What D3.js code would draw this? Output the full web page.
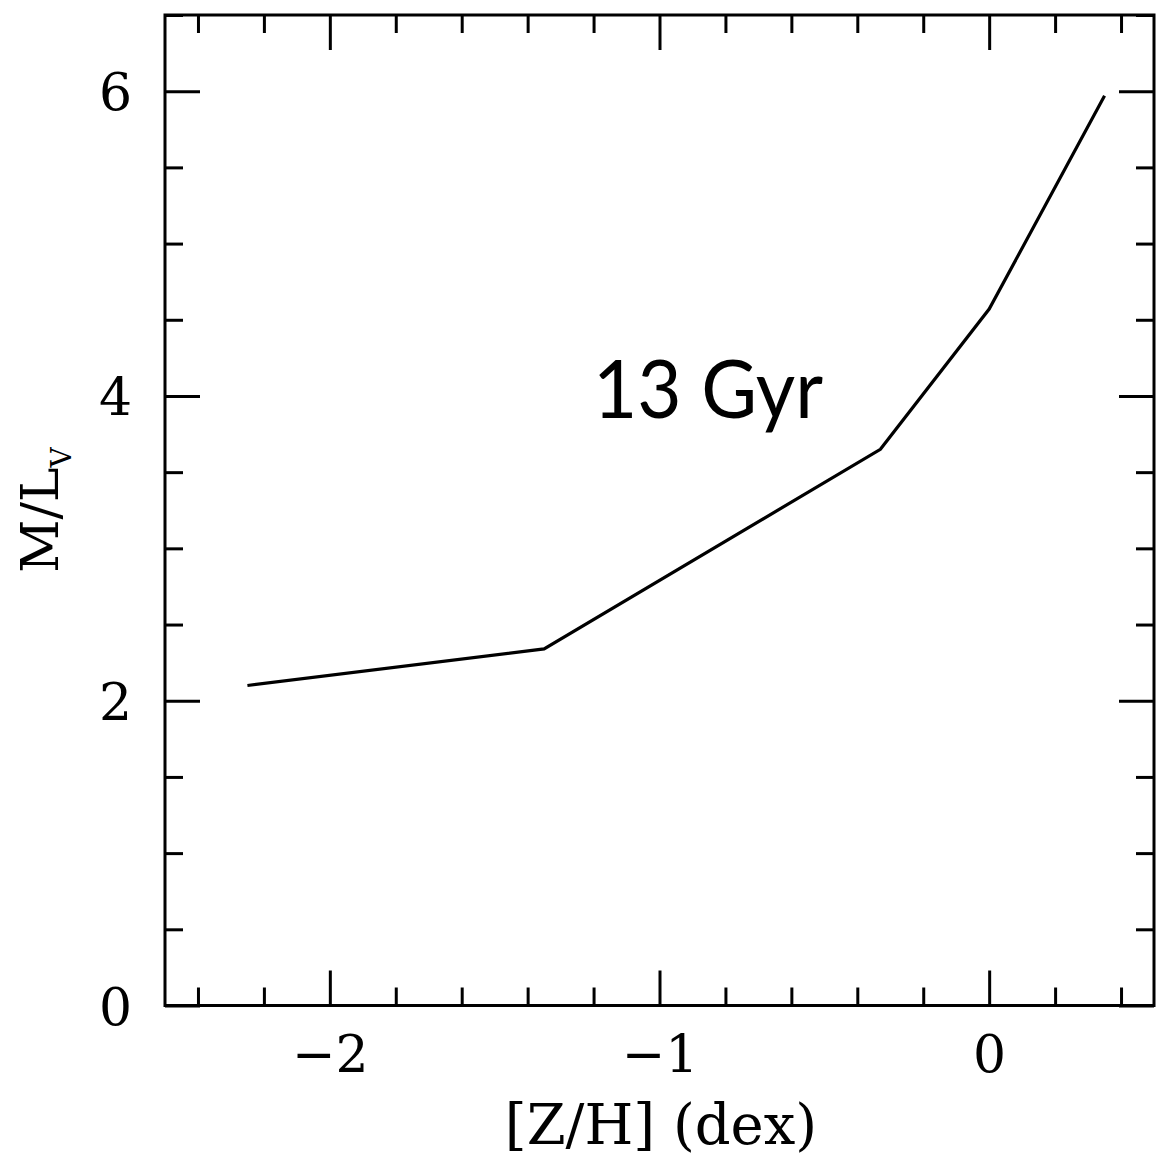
<!DOCTYPE html>
<html>
<head>
<meta charset="utf-8">
<script src="https://cdn.jsdelivr.net/npm/d3@7"></script>
<style>
  html, body { margin: 0; padding: 0; background: #fff; }
  svg { display: block; }
</style>
</head>
<body>
<svg id="chart" width="1156" height="1158"></svg>
<script>
// ---- data ----
const zh = [-2.25, -1.35, -0.33, 0.0, 0.35];      // [Z/H] (dex)
const ml = [2.10, 2.34, 3.65, 4.57, 5.97];         // M/L_V
const xMajorTicks = [-2, -1, 0];
const xMinorTicks = [-2.4, -2.2, -1.8, -1.6, -1.4, -1.2, -0.8, -0.6, -0.4, -0.2, 0.2, 0.4];
const yMajorTicks = [0, 2, 4, 6];
const yMinorTicks = [0.5, 1, 1.5, 2.5, 3, 3.5, 4.5, 5, 5.5, 6.5];
const xTickLabels = ["\u22122", "\u22121", "0"];
const yTickLabels = ["0", "2", "4", "6"];
const annotation = "13 Gyr";

// ---- layout ----
const svg = d3.select("#chart");
const L = 165, R = 1154, T = 15, B = 1005.5;
const x = d3.scaleLinear().domain([-2.5, 0.5]).range([L, R]);
const y = d3.scaleLinear().domain([0, 6.5]).range([B, T]);

const serif = "'DejaVu Serif', serif";
const majorLen = 35, minorLen = 18;

function styleAxis(g) {
  g.select(".domain").remove();
  g.selectAll(".tick line").attr("stroke", "#000").attr("stroke-width", 3);
}

// bottom major with labels
svg.append("g").attr("transform", `translate(0,${B})`)
  .call(d3.axisBottom(x).tickValues(xMajorTicks).tickSize(-majorLen).tickPadding(30)
    .tickFormat((d, i) => xTickLabels[i]))
  .call(styleAxis)
  .call(g => g.selectAll("text").attr("font-family", serif).attr("font-size", 52).attr("fill", "#000"));
svg.append("g").attr("transform", `translate(0,${B})`)
  .call(d3.axisBottom(x).tickValues(xMinorTicks).tickSize(-minorLen).tickFormat(""))
  .call(styleAxis);
// top
svg.append("g").attr("transform", `translate(0,${T})`)
  .call(d3.axisTop(x).tickValues(xMajorTicks).tickSize(-majorLen).tickFormat(""))
  .call(styleAxis);
svg.append("g").attr("transform", `translate(0,${T})`)
  .call(d3.axisTop(x).tickValues(xMinorTicks).tickSize(-minorLen).tickFormat(""))
  .call(styleAxis);
// left
svg.append("g").attr("transform", `translate(${L},0)`)
  .call(d3.axisLeft(y).tickValues(yMajorTicks).tickSize(-majorLen).tickPadding(33)
    .tickFormat((d, i) => yTickLabels[i]))
  .call(styleAxis)
  .call(g => g.selectAll("text").attr("font-family", serif).attr("font-size", 52).attr("fill", "#000").attr("dy", "0.36em"));
svg.append("g").attr("transform", `translate(${L},0)`)
  .call(d3.axisLeft(y).tickValues(yMinorTicks).tickSize(-minorLen).tickFormat(""))
  .call(styleAxis);
// right
svg.append("g").attr("transform", `translate(${R},0)`)
  .call(d3.axisRight(y).tickValues(yMajorTicks).tickSize(-majorLen).tickFormat(""))
  .call(styleAxis);
svg.append("g").attr("transform", `translate(${R},0)`)
  .call(d3.axisRight(y).tickValues(yMinorTicks).tickSize(-minorLen).tickFormat(""))
  .call(styleAxis);

// frame
svg.append("rect").attr("x", L).attr("y", T).attr("width", R - L).attr("height", B - T)
  .attr("fill", "none").attr("stroke", "#000").attr("stroke-width", 3);

// line
const pts = zh.map((d, i) => [d, ml[i]]);
svg.append("path").datum(pts)
  .attr("d", d3.line().x(d => x(d[0])).y(d => y(d[1])))
  .attr("fill", "none").attr("stroke", "#000").attr("stroke-width", 3.2)
  .attr("stroke-linejoin", "miter");

// axis titles
svg.append("text").attr("x", 661).attr("y", 1144).attr("text-anchor", "middle")
  .attr("font-family", serif).attr("font-size", 56).attr("fill", "#000")
  .text("[Z/H] (dex)");

const yt = svg.append("text").attr("transform", "translate(58,510) rotate(-90)")
  .attr("text-anchor", "middle").attr("font-family", serif).attr("font-size", 52).attr("fill", "#000");
yt.append("tspan").text("M/L");
yt.append("tspan").attr("font-size", 28).attr("dy", 13).text("V");

// annotation
svg.append("text").attr("x", 593).attr("y", 418)
  .attr("font-family", "Lato, 'Open Sans', sans-serif").attr("font-size", 82).attr("fill", "#000")
  .attr("textLength", 230).attr("lengthAdjust", "spacingAndGlyphs")
  .text(annotation);
</script>
</body>
</html>
